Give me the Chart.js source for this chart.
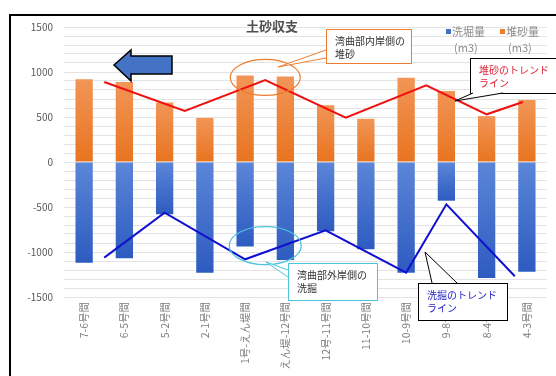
<!DOCTYPE html>
<html><head><meta charset="utf-8">
<script src="https://cdn.jsdelivr.net/npm/chart.js@4/dist/chart.umd.min.js"></script>
<style>html,body{margin:0;padding:0;background:#fff}#wrap{width:556px;height:376px;position:relative}</style>
</head><body><div id="wrap"><canvas id="c" width="556" height="376"></canvas></div>
<script>
const categories = ['7-6号間','6-5号間','5-2号間','2-1号間','1号-えん堤間','えん堤-12号間','12号-11号間','11-10号間','10-9号間','9-8号間','8-4号間','4-3号間'];
const erosion = [-1120,-1070,-580,-1230,-940,-1090,-770,-970,-1230,-430,-1290,-1220];
const deposition = [920,890,660,490,960,950,630,480,935,790,510,690];
const depoTrendX = [0.5,2.5,4.5,6.5,8.5,10,10.9];
const depoTrendY = [889,567,911,493,852,530,667];
const eroTrendX = [0.5,2,4,6,8,9,10.7];
const eroTrendY = [-1063,-563,-1081,-759,-1229,-470,-1270];
const yMin = -1500, yMax = 1500, yStep = 100, yLabelStep = 500;
const titleText = '土砂収支';
const legendNames = ['洗堀量','堆砂量'];
const legendUnit = '(m3)';

const FONT = '"Noto Sans CJK JP", "Liberation Sans", sans-serif';

function barGradient(top, bottom) {
  return function(context) {
    const chart = context.chart;
    if (!chart.chartArea) return top;
    const y = chart.scales.y;
    const v = context.raw;
    const p0 = y.getPixelForValue(0), p1 = y.getPixelForValue(v);
    if (!isFinite(p1) || p0 === p1) return top;
    const g = chart.ctx.createLinearGradient(0, Math.min(p0,p1), 0, Math.max(p0,p1));
    g.addColorStop(0, top); g.addColorStop(1, bottom);
    return g;
  };
}

function callout(ctx, box, tip, b1, b2, stroke, lines, color) {
  ctx.save();
  ctx.lineWidth = 1;
  ctx.strokeStyle = stroke;
  ctx.fillStyle = '#fff';
  ctx.fillRect(box.x, box.y, box.w, box.h);
  ctx.strokeRect(box.x + 0.5, box.y + 0.5, box.w, box.h);
  ctx.beginPath();
  ctx.moveTo(b1[0], b1[1]); ctx.lineTo(tip[0], tip[1]); ctx.lineTo(b2[0], b2[1]); ctx.closePath();
  ctx.fill();
  ctx.beginPath();
  ctx.moveTo(b1[0], b1[1]); ctx.lineTo(tip[0], tip[1]); ctx.lineTo(b2[0], b2[1]);
  ctx.stroke();
  ctx.fillStyle = color;
  ctx.font = '10px ' + FONT;
  ctx.textBaseline = 'middle';
  ctx.textAlign = 'left';
  lines.forEach((t, i) => ctx.fillText(t, box.x + 9, box.y + 12 + i * 13));
  ctx.restore();
}

const deco = {
  id: 'deco',
  beforeDraw(chart) {
    const ctx = chart.ctx;
    ctx.save(); ctx.fillStyle = '#fff'; ctx.fillRect(0, 0, chart.width, chart.height); ctx.restore();
  },
  afterDraw(chart) {
    const ctx = chart.ctx;
    const xs = chart.scales.x2, ys = chart.scales.y;
    ctx.save();
    ctx.strokeStyle = '#000'; ctx.lineWidth = 2;
    ctx.strokeRect(10, 15, 600, 400);
    ctx.fillStyle = '#505050';
    ctx.font = 'bold 13px ' + FONT;
    ctx.textAlign = 'center'; ctx.textBaseline = 'middle';
    ctx.fillText(titleText, 272, 26);
    const lx = [446, 500], cols = ['#4472C4', '#ED7D31'];
    ctx.font = '11px ' + FONT; ctx.textAlign = 'left';
    for (let i = 0; i < 2; i++) {
      ctx.fillStyle = cols[i];
      ctx.fillRect(lx[i], 29, 5, 5);
      ctx.fillStyle = '#8c8c8c';
      ctx.fillText(legendNames[i], lx[i] + 6, 32);
      ctx.fillText(legendUnit, lx[i] + 8, 48);
    }
    ctx.beginPath();
    ctx.moveTo(114, 65); ctx.lineTo(131, 50); ctx.lineTo(131, 56); ctx.lineTo(172, 56);
    ctx.lineTo(172, 74); ctx.lineTo(131, 74); ctx.lineTo(131, 81); ctx.closePath();
    ctx.fillStyle = '#4472C4'; ctx.fill();
    ctx.strokeStyle = '#000'; ctx.lineWidth = 1.5; ctx.stroke();
    ctx.lineWidth = 1.2;
    ctx.strokeStyle = '#ED7D31';
    ctx.beginPath(); ctx.ellipse(xs.getPixelForValue(4.5), ys.getPixelForValue(940), 35, 18, 0, 0, Math.PI * 2); ctx.stroke();
    ctx.strokeStyle = '#4BC3DC';
    ctx.beginPath(); ctx.ellipse(xs.getPixelForValue(4.5), ys.getPixelForValue(-930), 36, 19, 0, 0, Math.PI * 2); ctx.stroke();
    ctx.restore();
    callout(ctx, {x: 326, y: 29, w: 85, h: 34}, [278, 67], [326, 50], [326, 58], '#ED7D31', ['湾曲部内岸側の', '堆砂'], '#333');
    callout(ctx, {x: 288, y: 263, w: 89, h: 37}, [266, 262], [288, 270], [288, 277], '#4BC3DC', ['湾曲部外岸側の', '洗掘'], '#333');
    callout(ctx, {x: 470, y: 58, w: 100, h: 35}, [455, 101], [473, 93], [503, 93], '#000', ['堆砂のトレンド', 'ライン'], '#E0283C');
    callout(ctx, {x: 418, y: 283, w: 89, h: 37}, [425, 252], [432, 283], [457, 283], '#000', ['洗掘のトレンド', 'ライン'], '#2626C8');
  }
};

new Chart(document.getElementById('c'), {
  data: {
    labels: categories,
    datasets: [
      { type: 'bar', label: legendNames[0], data: erosion, order: 2, grouped: false,
        backgroundColor: barGradient('#5B86D8', '#2E5BC0'), barPercentage: 0.43, categoryPercentage: 1 },
      { type: 'bar', label: legendNames[1], data: deposition, order: 2, grouped: false,
        backgroundColor: barGradient('#F29557', '#E8741F'), barPercentage: 0.43, categoryPercentage: 1 },
      { type: 'line', label: 'depoTrend', xAxisID: 'x2', order: 0,
        data: depoTrendX.map((x, i) => ({x: x, y: depoTrendY[i]})),
        borderColor: '#F01010', borderWidth: 2, pointRadius: 0, tension: 0, fill: false },
      { type: 'line', label: 'eroTrend', xAxisID: 'x2', order: 0,
        data: eroTrendX.map((x, i) => ({x: x, y: eroTrendY[i]})),
        borderColor: '#1010D0', borderWidth: 2, pointRadius: 0, tension: 0, fill: false }
    ]
  },
  options: {
    responsive: false, animation: false,
    layout: { padding: { left: 12, right: 9, top: 27, bottom: 0 } },
    plugins: { legend: { display: false }, title: { display: false }, tooltip: { enabled: false } },
    scales: {
      x: {
        type: 'category', offset: true,
        grid: { display: false, drawTicks: false },
        border: { display: false },
        ticks: { autoSkip: false, minRotation: 90, maxRotation: 90, padding: 5,
          color: '#7f7f7f', font: { size: 10.5, family: FONT } },
        afterFit(s) { s.height = 79; }
      },
      x2: { type: 'linear', display: false, min: -0.5, max: categories.length - 0.5 },
      y: {
        min: yMin, max: yMax,
        border: { display: false },
        grid: { color: '#e4e4e4', lineWidth: 1, drawTicks: false },
        ticks: { stepSize: yStep, autoSkip: false, padding: 11, color: '#595959',
          font: { size: 10, family: FONT },
          callback: v => (v % yLabelStep === 0 ? String(v) : '') },
        afterFit(s) { s.width = 52; }
      }
    }
  },
  plugins: [deco]
});
</script></body></html>
